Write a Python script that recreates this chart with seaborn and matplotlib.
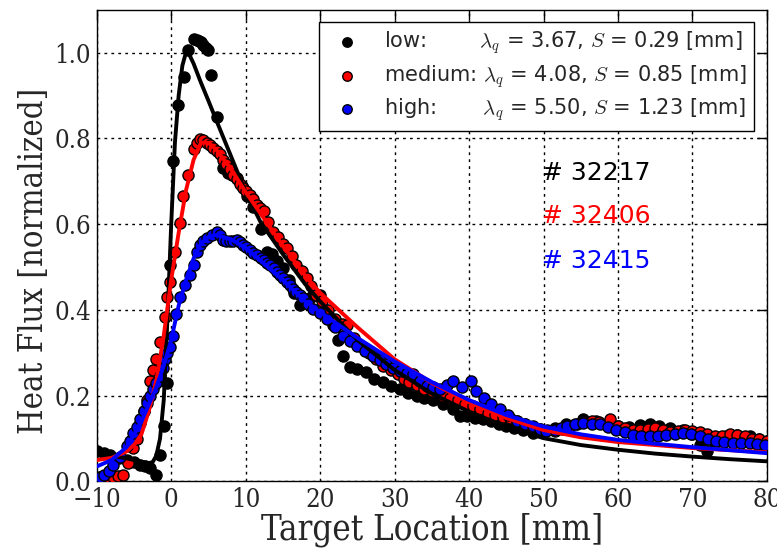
import numpy as np
import pandas as pd
import matplotlib
matplotlib.use("Agg")
import matplotlib.pyplot as plt
import seaborn as sns

# ---------------- data ----------------
low_x = [-10.0, -9.0, -8.2, -7.0, -6.0, -5.0, -4.2, -3.5, -2.8, -2.0, -1.5, -1.0, -0.6, -0.2,
         0.3, 0.95, 1.7, 2.3, 3.0, 3.4, 3.7, 4.0, 4.3, 4.7, 5.0, 5.4, 6.1, 7.0, 7.6, 8.2, 8.8,
         9.5, 10.2, 11.0, 12.0, 12.8, 13.5, 14.2, 15.0, 15.8, 16.5, 17.3, 18.0, 18.8, 19.5,
         20.0, 20.8, 21.7, 22.4, 23.1, 24.0, 25.0, 26.2, 27.3, 28.4, 29.5, 30.7, 31.8, 33.0,
         34.0, 35.2, 36.5, 37.9, 38.8, 39.7, 40.8, 41.9, 43.0, 44.0, 45.0, 46.0, 47.3, 48.6,
         50.0, 51.5, 53.0, 55.3, 57.0, 58.5, 60.0, 61.5, 63.0, 64.3, 65.5, 67.0, 68.7, 70.0,
         71.0, 71.9, 73.0, 74.5, 76.0, 77.7, 79.0, 80.0]
low_y = [0.070, 0.066, 0.062, 0.055, 0.050, 0.045, 0.039, 0.036, 0.032, 0.015, 0.062, 0.13,
         0.23, 0.505, 0.748, 0.877, 0.943, 1.006, 1.031, 1.030, 1.028, 1.024, 1.018, 1.012,
         1.006, 0.948, 0.85, 0.732, 0.72, 0.714, 0.709, 0.69, 0.665, 0.64, 0.59, 0.536, 0.53,
         0.515, 0.497, 0.47, 0.44, 0.411, 0.42, 0.43, 0.434, 0.434, 0.40, 0.364, 0.33, 0.293,
         0.267, 0.262, 0.255, 0.24, 0.231, 0.222, 0.215, 0.207, 0.20, 0.195, 0.19, 0.18, 0.168,
         0.152, 0.152, 0.148, 0.145, 0.14, 0.135, 0.13, 0.125, 0.12, 0.113, 0.118, 0.125,
         0.135, 0.145, 0.14, 0.135, 0.13, 0.128, 0.132, 0.135, 0.13, 0.125, 0.121, 0.11,
         0.085, 0.07, 0.09, 0.105, 0.108, 0.105, 0.10, 0.095]

med_x = [-9.6, -9.1, -8.5, -7.8, -7.2, -6.5, -5.8, -5.1, -4.6, -4.2, -3.7, -3.3, -2.8, -2.4,
         -2.0, -1.5, -0.8, -0.6, -0.2, 0.5, 1.2, 1.6, 2.3, 3.0, 3.5, 3.9, 4.3, 4.8, 5.2, 5.65,
         6.1, 6.5, 7.0, 7.4, 7.9, 8.3, 8.8, 9.2, 9.7, 10.1, 10.6, 11.0, 11.5, 11.9, 12.4, 13.0,
         13.7, 14.3, 15.0, 15.5, 16.2, 16.8, 17.5, 18.2, 18.8, 19.5, 20.3, 21.0, 22.0, 23.0,
         23.6, 24.5, 25.5, 26.5, 27.5, 28.5, 29.5, 30.5, 31.2, 32.0, 33.0, 34.0, 35.0, 36.5,
         37.5, 38.5, 39.5, 40.5, 41.5, 42.5, 43.5, 44.5, 45.5, 46.5, 47.5, 48.5, 49.5, 50.5,
         51.5, 52.5, 53.5, 54.5, 55.5, 56.5, 57.5, 58.9, 60.0, 61.0, 62.0, 63.0, 64.0, 65.0,
         66.0, 67.0, 68.0, 69.0, 70.0, 71.0, 72.0, 73.0, 74.0, 75.0, 76.0, 77.0, 78.0, 79.0, 80.0]
med_y = [0.010, 0.011, 0.010, 0.011, 0.013, 0.015, 0.043, 0.079, 0.10, 0.137, 0.165, 0.19,
         0.235, 0.26, 0.286, 0.325, 0.384, 0.43, 0.466, 0.536, 0.603, 0.666, 0.716, 0.775,
         0.79, 0.799, 0.796, 0.79, 0.785, 0.779, 0.77, 0.763, 0.75, 0.74, 0.728, 0.716, 0.705,
         0.693, 0.685, 0.677, 0.668, 0.658, 0.646, 0.638, 0.63, 0.605, 0.583, 0.57, 0.555,
         0.544, 0.525, 0.505, 0.49, 0.474, 0.455, 0.434, 0.42, 0.40, 0.38, 0.368, 0.364, 0.335,
         0.315, 0.30, 0.285, 0.27, 0.26, 0.25, 0.24, 0.231, 0.225, 0.215, 0.21, 0.20, 0.195,
         0.19, 0.18, 0.175, 0.17, 0.16, 0.155, 0.15, 0.148, 0.14, 0.135, 0.128, 0.122, 0.12,
         0.118, 0.122, 0.13, 0.135, 0.138, 0.14, 0.138, 0.145, 0.13, 0.125, 0.12, 0.12, 0.122,
         0.125, 0.12, 0.115, 0.118, 0.12, 0.118, 0.115, 0.11, 0.105, 0.105, 0.11, 0.108, 0.105,
         0.10, 0.10, 0.095]

high_x = [-9.8, -9.6, -9.0, -8.4, -7.8, -6.9, -6.0, -5.5, -5.1, -4.6, -4.2, -3.7, -3.3, -2.8,
          -2.4, -2.0, -1.5, -1.1, -0.8, -0.5, -0.2, 0.3, 0.7, 1.2, 1.85, 2.5, 3.0, 3.4, 3.9,
          4.3, 4.8, 5.5, 6.1, 6.5, 7.0, 7.4, 7.9, 8.3, 8.8, 9.2, 9.7, 10.1, 10.6, 11.0, 11.5,
          12.0, 12.4, 12.9, 13.3, 13.8, 14.2, 14.6, 15.0, 15.5, 15.9, 16.4, 16.8, 17.3, 17.7,
          18.4, 19.1, 20.0, 20.9, 22.0, 23.1, 24.0, 24.9, 26.0, 27.1, 28.0, 28.9, 29.8, 30.7,
          31.6, 32.5, 33.4, 34.3, 35.2, 36.1, 37.0, 37.9, 39.0, 40.3, 41.0, 42.0, 43.0, 44.1,
          45.2, 46.4, 47.5, 48.6, 49.5, 50.4, 51.5, 52.3, 53.1, 54.2, 55.3, 56.5, 57.6, 58.7,
          59.8, 60.9, 62.0, 63.1, 64.3, 65.4, 66.5, 67.6, 68.7, 69.8, 71.0, 72.1, 73.2, 74.3,
          75.4, 76.5, 77.7, 78.7, 79.7]
high_y = [0.005, 0.011, 0.015, 0.025, 0.039, 0.058, 0.082, 0.095, 0.113, 0.128, 0.145, 0.165,
          0.184, 0.20, 0.215, 0.23, 0.246, 0.265, 0.286, 0.30, 0.313, 0.34, 0.391, 0.43, 0.458,
          0.481, 0.505, 0.536, 0.552, 0.56, 0.568, 0.575, 0.583, 0.575, 0.564, 0.56, 0.56,
          0.562, 0.564, 0.558, 0.552, 0.546, 0.54, 0.534, 0.528, 0.522, 0.517, 0.51, 0.505,
          0.497, 0.489, 0.481, 0.474, 0.466, 0.458, 0.45, 0.442, 0.435, 0.427, 0.415, 0.403,
          0.392, 0.38, 0.36, 0.34, 0.328, 0.317, 0.305, 0.293, 0.283, 0.274, 0.265, 0.258,
          0.254, 0.25, 0.235, 0.223, 0.22, 0.215, 0.225, 0.235, 0.22, 0.235, 0.211, 0.195,
          0.18, 0.168, 0.155, 0.14, 0.135, 0.129, 0.122, 0.117, 0.12, 0.125, 0.129, 0.133,
          0.137, 0.135, 0.133, 0.128, 0.121, 0.115, 0.109, 0.107, 0.105, 0.107, 0.109, 0.111,
          0.113, 0.11, 0.105, 0.10, 0.094, 0.092, 0.09, 0.09, 0.09, 0.088, 0.086]

# fitted curves
low_fit_x = [-10, -8, -6, -4, -3, -2.5, -2, -1.5, -1, -0.5, 0, 0.5, 1, 1.5, 2.1, 3, 4, 5, 6,
             8, 10, 12, 15, 18, 20, 25, 30, 35, 40, 45, 50, 55, 60, 65, 70, 75, 80]
low_fit_y = [0.066, 0.060, 0.054, 0.046, 0.043, 0.045, 0.06, 0.10, 0.19, 0.38, 0.60, 0.79,
             0.90, 0.97, 1.008, 0.975, 0.93, 0.888, 0.845, 0.76, 0.675, 0.605, 0.53, 0.46,
             0.42, 0.33, 0.26, 0.205, 0.163, 0.128, 0.101, 0.085, 0.074, 0.065, 0.058, 0.052,
             0.047]

med_fit_x = [-10, -8, -6, -5, -4, -3, -2, -1, 0, 1, 2, 3, 4, 5, 6, 8, 10, 12, 15, 18, 20, 25,
             30, 35, 40, 45, 50, 55, 60, 65, 70, 75, 80]
med_fit_y = [0.050, 0.055, 0.070, 0.085, 0.11, 0.165, 0.235, 0.34, 0.47, 0.58, 0.68, 0.75,
             0.79, 0.79, 0.775, 0.73, 0.675, 0.625, 0.55, 0.48, 0.44, 0.36, 0.285, 0.23, 0.185,
             0.148, 0.12, 0.103, 0.092, 0.085, 0.078, 0.073, 0.068]

high_fit_x = [-10, -8, -6, -4, -2, -1, 0, 1, 2, 3, 4, 5, 6, 8, 10, 12, 15, 18, 20, 25, 30,
              35, 40, 45, 50, 55, 60, 65, 70, 75, 80]
high_fit_y = [0.035, 0.05, 0.08, 0.14, 0.22, 0.27, 0.33, 0.41, 0.47, 0.52, 0.555, 0.57, 0.575,
              0.565, 0.545, 0.515, 0.47, 0.42, 0.395, 0.335, 0.28, 0.232, 0.19, 0.155, 0.128,
              0.11, 0.097, 0.088, 0.08, 0.073, 0.066]

labels = ["low:        $\\lambda_q$ = 3.67, $S$ = 0.29 [mm]",
          "medium: $\\lambda_q$ = 4.08, $S$ = 0.85 [mm]",
          "high:       $\\lambda_q$ = 5.50, $S$ = 1.23 [mm]"]
shots = ["# 32217", "# 32406", "# 32415"]
colors = ["black", "red", "blue"]

# ---------------- style ----------------
sns.set_style("white")
plt.rcParams["font.family"] = ["DejaVu Sans"]
plt.rcParams["mathtext.fontset"] = "cm"

fig = plt.figure(figsize=(7.77, 5.49), dpi=100)
ax = fig.add_axes([0.1245, 0.123, 0.8625, 0.859])

series = [(low_x, low_y, low_fit_x, low_fit_y),
          (med_x, med_y, med_fit_x, med_fit_y),
          (high_x, high_y, high_fit_x, high_fit_y)]

for (sx, sy, fx, fy), c, lab in zip(series, colors, labels):
    d = pd.DataFrame({"x": sx, "y": sy})
    f = pd.DataFrame({"x": fx, "y": fy})
    sns.scatterplot(data=d, x="x", y="y", ax=ax, color=c, s=64, edgecolor="black",
                    linewidth=1.0, label=lab, zorder=3)
    sns.lineplot(data=f, x="x", y="y", ax=ax, color=c, lw=2.8, zorder=4, legend=False)

ax.set_xlim(-10, 80)
ax.set_ylim(0, 1.1)
ax.set_xticks(np.arange(-10, 81, 10))
ax.set_yticks(np.arange(0, 1.01, 0.2))
ax.set_yticklabels(["0.0", "0.2", "0.4", "0.6", "0.8", "1.0"])
ax.set_xticklabels(["\u221210"] + [str(v) for v in range(0, 81, 10)])

ax.grid(True, color="black", linestyle=(0, (2, 3)), linewidth=1.0)
ax.set_axisbelow(True)
for sp in ax.spines.values():
    sp.set_color("black")
    sp.set_linewidth(1.0)
ax.tick_params(direction="in", length=7, width=1, top=True, right=True, color="black",
               pad=4)
for t in ax.get_xticklabels() + ax.get_yticklabels():
    t.set_fontfamily("DejaVu Serif")
    t.set_fontstretch("condensed")
    t.set_fontsize(18.5)

ax.set_xlabel("Target Location [mm]", fontfamily="DejaVu Serif", fontstretch="condensed",
              fontsize=25, labelpad=0)
ax.set_ylabel("Heat Flux [normalized]", fontfamily="DejaVu Serif", fontstretch="condensed",
              fontsize=23.5)
ax.yaxis.set_label_coords(-0.069, 0.467)

leg = ax.legend(loc="upper right", fontsize=15, scatterpoints=1, frameon=True,
                fancybox=False, framealpha=1, edgecolor="black", handletextpad=0.8,
                borderpad=0.35, labelspacing=0.32, markerscale=0.85,
                borderaxespad=0.6)
leg.get_frame().set_linewidth(1.0)

for txt, c, yy in zip(shots, colors, [0.72, 0.62, 0.515]):
    ax.text(49.8, yy, txt, color=c, fontsize=18, va="center", ha="left")

fig.savefig("out.png", dpi=100)
